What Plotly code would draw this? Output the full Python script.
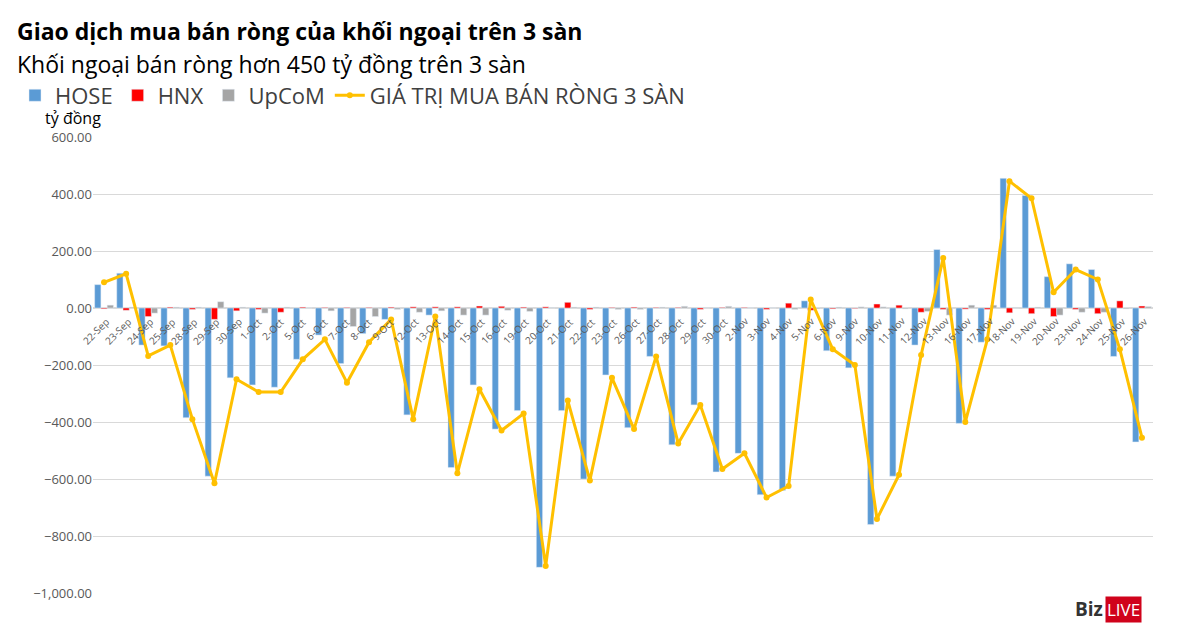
import plotly.graph_objects as go

dates = ["22-Sep", "23-Sep", "24-Sep", "25-Sep", "28-Sep", "29-Sep", "30-Sep", "1-Oct", "2-Oct",
         "5-Oct", "6-Oct", "7-Oct", "8-Oct", "9-Oct", "12-Oct", "13-Oct", "14-Oct", "15-Oct",
         "16-Oct", "19-Oct", "20-Oct", "21-Oct", "22-Oct", "23-Oct", "26-Oct", "27-Oct", "28-Oct",
         "29-Oct", "30-Oct", "2-Nov", "3-Nov", "4-Nov", "5-Nov", "6-Nov", "9-Nov", "10-Nov",
         "11-Nov", "12-Nov", "13-Nov", "16-Nov", "17-Nov", "18-Nov", "19-Nov", "20-Nov", "23-Nov",
         "24-Nov", "25-Nov", "26-Nov"]

hose = [82, 122, -130, -133, -385, -590, -245, -270, -278, -180, -95, -195, -90, -40, -375, -25,
        -560, -270, -425, -360, -910, -360, -600, -235, -420, -170, -480, -340, -575, -510, -655,
        -640, 25, -150, -210, -760, -590, -130, 205, -405, -120, 455, 395, 110, 155, 135, -170, -470]
hnx = [-3, -8, -30, 3, -5, -40, -10, -5, -15, 3, 2, 2, 2, 3, 4, 4, 4, 7, 6, 3, 4, 20, -5, 2, 3,
       2, 2, -5, 2, 2, -5, 17, -8, -3, -2, 14, 10, -15, -5, -4, -5, -17, -20, -30, -5, -20, 25, 7]
upcom = [10, 3, -18, 3, 3, 22, 3, -18, 3, 1, -10, -65, -30, -5, -15, -10, -25, -25, -8, -12, 2,
         3, 3, -5, -5, 3, 6, 1, 6, 1, 1, -5, -3, 3, 4, 4, -3, -12, -25, 10, 10, 2, 3, -25, -15,
         -15, -3, 5]
total = [90, 120, -168, -130, -390, -615, -250, -295, -295, -180, -110, -262, -120, -40, -390,
         -30, -580, -285, -430, -370, -905, -325, -605, -245, -425, -170, -475, -340, -565, -510,
         -665, -625, 30, -145, -200, -740, -585, -165, 175, -400, -110, 445, 385, 55, 135, 100,
         -145, -455]

fig = go.Figure()
fig.add_bar(x=dates, y=hose, name="HOSE", marker_color="#5B9BD5")
fig.add_bar(x=dates, y=hnx, name="HNX", marker_color="#FF0000")
fig.add_bar(x=dates, y=upcom, name="UpCoM", marker_color="#A5A5A5")
fig.add_scatter(x=dates, y=total, name="GIÁ TRỊ MUA BÁN RÒNG 3 SÀN", mode="lines+markers",
                line=dict(color="#FFC000", width=3), marker=dict(size=6, color="#FFC000"))

# date labels sit on the zero line, like the original
for d in dates:
    fig.add_annotation(x=d, y=0, text=d, showarrow=False, textangle=-45,
                       xanchor="center", yanchor="top", xshift=-8, yshift=-4,
                       font=dict(size=10, color="#595959"))

PW = 1060
left = -78 / PW
fig.add_annotation(x=left, y=1.0, xref="paper", yref="paper", xanchor="left", yanchor="bottom",
                   text="<b>Giao dịch mua bán ròng của khối ngoại trên 3 sàn</b>", showarrow=False,
                   font=dict(size=23, color="#000"), yshift=88)
fig.add_annotation(x=left, y=1.0, xref="paper", yref="paper", xanchor="left", yanchor="bottom",
                   text="Khối ngoại bán ròng hơn 450 tỷ đồng trên 3 sàn", showarrow=False,
                   font=dict(size=23, color="#000"), yshift=55)
fig.add_annotation(x=-50 / PW, y=1.0, xref="paper", yref="paper", xanchor="left", yanchor="bottom",
                   text="tỷ đồng", showarrow=False, font=dict(size=16, color="#000"), yshift=6)
fig.add_annotation(x=0.955, y=0, xref="paper", yref="paper", xanchor="right", yanchor="middle",
                   text="<b>Biz</b>", showarrow=False, font=dict(size=19, color="#333"), yshift=-16)
fig.add_annotation(x=0.955, y=0, xref="paper", yref="paper", xanchor="left", yanchor="middle",
                   text="LIVE", showarrow=False, bgcolor="#D0021B", borderpad=1,
                   font=dict(size=17, color="#fff"), yshift=-16)

fig.update_layout(
    width=1200, height=626, barmode="group", bargap=0.15, bargroupgap=0,
    plot_bgcolor="white", paper_bgcolor="white",
    font=dict(family="Open Sans, Calibri, sans-serif", color="#595959"),
    margin=dict(l=85, r=55, t=129, b=41, autoexpand=False),
    showlegend=True,
    legend=dict(orientation="h", x=left, y=1.045, xanchor="left", yanchor="bottom",
                font=dict(size=22, color="#404040")),
    xaxis=dict(showticklabels=False, showgrid=False, range=[-0.5, len(dates) - 0.5],
               automargin=False),
    yaxis=dict(range=[-1000, 600], dtick=200, tickformat=",.2f", gridcolor="#D9D9D9",
               zeroline=True, zerolinecolor="#D9D9D9", automargin=False,
               tickfont=dict(size=13, color="#595959")),
)
fig.write_html("out.html")
